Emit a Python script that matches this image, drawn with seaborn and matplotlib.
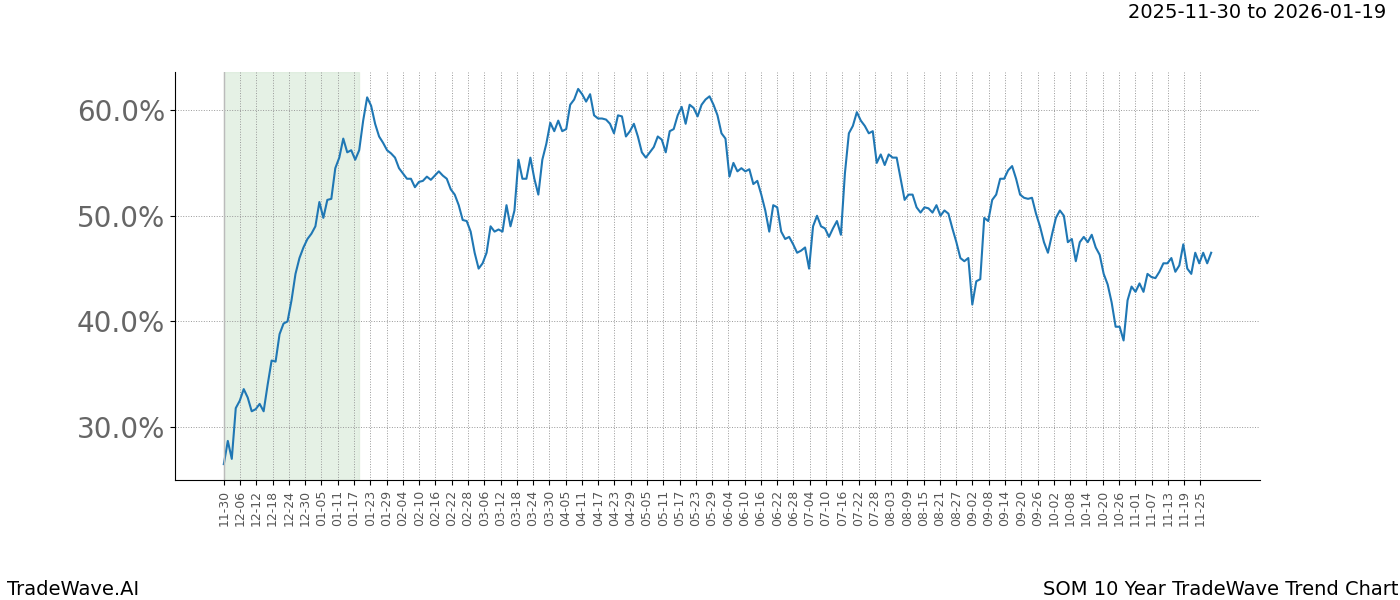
import numpy as np, pandas as pd
import matplotlib
matplotlib.use("Agg")
import matplotlib.pyplot as plt
import seaborn as sns

values = [26.5,28.7,27.0,31.8,32.5,33.6,32.8,31.5,31.7,32.2,31.5,34,36.3,36.2,38.8,39.8,40,42,44.5,46,47,47.8,48.3,49,51.3,49.8,51.5,51.6,54.5,55.5,57.3,56,56.2,55.3,56.2,59,61.2,60.4,58.7,57.5,56.9,56.2,55.9,55.5,54.5,54,53.5,53.5,52.7,53.2,53.3,53.7,53.4,53.8,54.2,53.8,53.5,52.5,52,51,49.6,49.5,48.5,46.5,45,45.5,46.5,49,48.5,48.7,48.5,51,49,50.5,55.3,53.5,53.5,55.5,53.5,52,55.3,56.8,58.8,58,59,58,58.2,60.5,61,62,61.5,60.8,61.5,59.5,59.2,59.2,59.1,58.7,57.8,59.5,59.4,57.5,58,58.7,57.5,56,55.5,56,56.5,57.5,57.2,56,58,58.2,59.5,60.3,58.7,60.5,60.2,59.4,60.5,61,61.3,60.5,59.5,57.8,57.3,53.7,55,54.2,54.5,54.2,54.4,53,53.3,52,50.5,48.5,51,50.8,48.5,47.8,48,47.3,46.5,46.7,47,45,49,50,49,48.8,48,48.8,49.5,48.2,54,57.8,58.5,59.8,59,58.5,57.8,58,55,55.8,54.8,55.8,55.5,55.5,53.5,51.5,52,52,50.8,50.3,50.8,50.7,50.3,51,50,50.5,50.2,48.8,47.5,46,45.7,46,41.6,43.8,44,49.8,49.5,51.5,52,53.5,53.5,54.3,54.7,53.5,52,51.7,51.6,51.7,50.2,49,47.5,46.5,48.2,49.8,50.5,50,47.5,47.8,45.7,47.5,48,47.5,48.2,47,46.3,44.5,43.5,41.8,39.5,39.5,38.2,42,43.3,42.8,43.6,42.8,44.5,44.2,44.1,44.7,45.5,45.5,46,44.7,45.3,47.3,45,44.5,46.5,45.5,46.5,45.5,46.5]
start = pd.Timestamp("2024-11-30")
tick_dates = pd.date_range(start, "2025-11-25", freq="6D")
tick_labels = [d.strftime("%m-%d") for d in tick_dates]
days = np.linspace(0, 364, len(values))
df = pd.DataFrame({"day": days, "val": values})

fig = plt.figure(figsize=(14, 6), dpi=100)
ax = fig.add_axes([0.125, 0.2, 0.775, 0.68])
sns.lineplot(data=df, x="day", y="val", ax=ax, color="#1f77b4", linewidth=1.5)
ax.axvspan(0, 50, color="#d5e8d4", alpha=0.6)
ax.axvline(0, color="#bbbbbb", lw=1)
ax.set_xticks([(d - start).days for d in tick_dates])
ax.set_xticklabels(tick_labels, rotation=90, fontsize=9, color="#555555")
ax.set_xlim(-18, 382)
ax.set_ylim(25, 63.6)
ax.set_yticks([30, 40, 50, 60])
ax.set_yticklabels(["30.0%", "40.0%", "50.0%", "60.0%"], fontsize=20, color="#666666")
ax.grid(True, color="#999999", linestyle=":", linewidth=0.7)
ax.spines["top"].set_visible(False)
ax.spines["right"].set_visible(False)
ax.set_xlabel(""); ax.set_ylabel("")
fig.text(0.99, 0.97, "2025-11-30 to 2026-01-19", ha="right", fontsize=14)
fig.text(0.005, 0.008, "TradeWave.AI", ha="left", fontsize=14)
fig.text(0.999, 0.008, "SOM 10 Year TradeWave Trend Chart", ha="right", fontsize=14)
fig.savefig("out.png", dpi=100)
